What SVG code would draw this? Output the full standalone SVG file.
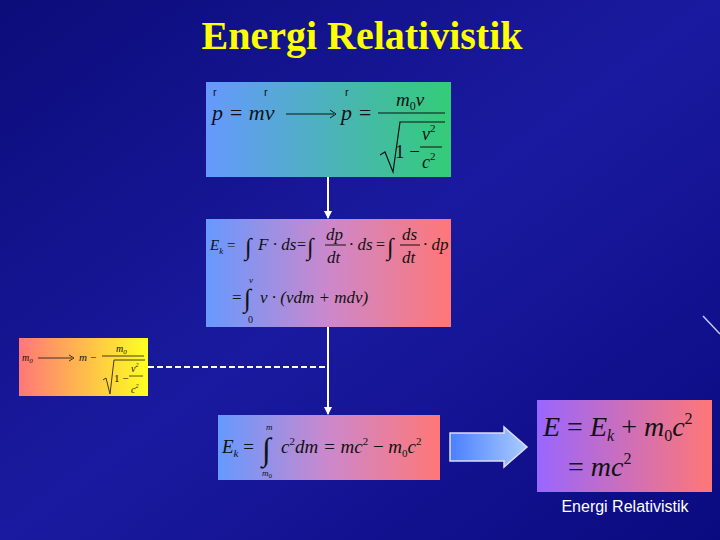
<svg xmlns="http://www.w3.org/2000/svg" width="720" height="540" viewBox="0 0 720 540">
<defs>
<linearGradient id="bg" x1="0" y1="0" x2="1" y2="1"><stop offset="0" stop-color="#0c0c7a"/><stop offset="0.5" stop-color="#1a1aa0"/><stop offset="1" stop-color="#0a0a80"/></linearGradient>
<linearGradient id="bgr" x1="0" x2="1"><stop offset="0" stop-color="#6699ff"/><stop offset="1" stop-color="#33cc77"/></linearGradient>
<linearGradient id="brd" x1="0" x2="1"><stop offset="0" stop-color="#6699ff"/><stop offset="0.5" stop-color="#cc88cc"/><stop offset="1" stop-color="#ff7777"/></linearGradient>
<linearGradient id="ry" x1="0" x2="1"><stop offset="0" stop-color="#ff7777"/><stop offset="1" stop-color="#ffff22"/></linearGradient>
<linearGradient id="pr" x1="0" x2="1"><stop offset="0" stop-color="#9966ff"/><stop offset="1" stop-color="#ff7777"/></linearGradient>
<linearGradient id="ar" x1="0" x2="1"><stop offset="0" stop-color="#4a7fff"/><stop offset="1" stop-color="#aaccff"/></linearGradient>
<marker id="ah" markerWidth="8" markerHeight="8" refX="7" refY="4" orient="auto" markerUnits="userSpaceOnUse"><path d="M0,0 L8,4 L0,8 z" fill="#fff"/></marker>
<style>
.m{font-family:"Liberation Serif",serif;font-style:italic;fill:#111}
.n{font-family:"Liberation Serif",serif;fill:#111}
.v{font-family:"Liberation Sans",sans-serif;fill:#111}
</style>
</defs>
<rect width="720" height="540" fill="url(#bg)"/>
<text x="362" y="49" text-anchor="middle" font-family="Liberation Serif,serif" font-size="40" font-weight="bold" fill="#ffff00">Energi Relativistik</text>
<line x1="703" y1="316" x2="720" y2="334" stroke="#c8c8ff" stroke-width="1.5"/>
<g id="connectors" stroke="#fff" stroke-width="2" fill="none">
<line x1="328" y1="177" x2="328" y2="218" marker-end="url(#ah)"/>
<line x1="328" y1="327" x2="328" y2="414" marker-end="url(#ah)"/>
<line x1="148" y1="367" x2="328" y2="367" stroke-dasharray="6,3"/>
<path d="M450,433 H504 V427 L527,447 L504,467 V461 H450 Z" fill="url(#ar)" stroke="#dde" stroke-width="1.5"/>
</g>
<g id="momentum">
<rect x="206" y="82" width="245" height="95" fill="url(#bgr)"/>
<text class="m" x="212" y="120" font-size="22">p = mv</text>
<text class="v" x="213" y="96" font-size="11">r</text><text class="v" x="264" y="96" font-size="11">r</text>
<line x1="286" y1="114" x2="334" y2="114" stroke="#111" stroke-width="1"/><path d="M330,110 L336,114 L330,118" fill="none" stroke="#111"/>
<text class="m" x="341" y="120" font-size="22">p =</text><text class="v" x="345" y="96" font-size="11">r</text>
<text class="m" x="396" y="106" font-size="19">m<tspan font-size="12" font-style="normal" dy="4">0</tspan><tspan dy="-4">v</tspan></text>
<line x1="378" y1="113" x2="445" y2="113" stroke="#111"/>
<path d="M380,155 L385,152 L393,172 L400,122 L445,122" fill="none" stroke="#111" stroke-width="1.2"/>
<text class="n" x="395" y="158" font-size="19">1 −</text>
<text class="m" x="422" y="140" font-size="18">v<tspan font-size="11" font-style="normal" dy="-8">2</tspan></text>
<line x1="420" y1="147" x2="442" y2="147" stroke="#111"/>
<text class="m" x="422" y="168" font-size="18">c<tspan font-size="11" font-style="normal" dy="-8">2</tspan></text>
</g>
<g id="kinetic">
<rect x="206" y="219" width="245" height="108" fill="url(#brd)"/>
<text class="m" x="210" y="250" font-size="15">E<tspan font-size="9" dy="4">k</tspan><tspan dy="-4" font-style="normal"> = </tspan></text>
<text class="n" x="245" y="255" font-size="24">∫</text><text class="m" x="258" y="250" font-size="17">F · ds</text>
<text class="n" x="297" y="250" font-size="16">=</text><text class="n" x="307" y="255" font-size="24">∫</text>
<text class="m" x="326" y="240" font-size="17">dp</text><line x1="325" y1="245" x2="346" y2="245" stroke="#111"/><text class="m" x="327" y="263" font-size="17">dt</text>
<text class="m" x="349" y="250" font-size="17">· ds</text>
<text class="n" x="376" y="250" font-size="16">=</text><text class="n" x="387" y="255" font-size="24">∫</text>
<text class="m" x="402" y="240" font-size="17">ds</text><line x1="400" y1="245" x2="420" y2="245" stroke="#111"/><text class="m" x="402" y="263" font-size="17">dt</text>
<text class="m" x="423" y="250" font-size="17">· dp</text>
<text class="n" x="232" y="303" font-size="17">=</text><text class="n" x="244" y="307" font-size="26">∫</text>
<text class="m" x="249" y="283" font-size="9">v</text><text class="n" x="248" y="323" font-size="10">0</text>
<text class="m" x="260" y="303" font-size="17">v · (vdm + mdv)</text>
</g>
<g id="mass">
<rect x="19" y="338" width="129" height="58" fill="url(#ry)"/>
<text class="m" x="22" y="361" font-size="10">m<tspan font-size="7" dy="2">0</tspan></text>
<line x1="38" y1="358" x2="72" y2="358" stroke="#111" stroke-width="0.8"/><path d="M69,355 L74,358 L69,361" fill="none" stroke="#111" stroke-width="0.8"/>
<text class="m" x="79" y="361" font-size="11">m −</text>
<text class="m" x="116" y="352" font-size="10">m<tspan font-size="7" dy="2">0</tspan></text>
<line x1="102" y1="356" x2="144" y2="356" stroke="#111" stroke-width="0.8"/>
<path d="M103,380 L106,378 L110,394 L114,360 L145,360" fill="none" stroke="#111" stroke-width="0.8"/>
<text class="n" x="114" y="382" font-size="11">1 −</text>
<text class="m" x="131" y="372" font-size="10">v<tspan font-size="6" dy="-5">2</tspan></text>
<line x1="129" y1="376" x2="143" y2="376" stroke="#111" stroke-width="0.7"/>
<text class="m" x="131" y="393" font-size="10">c<tspan font-size="6" dy="-5">2</tspan></text>
</g>
<g id="kinetic2">
<rect x="218" y="415" width="222" height="65" fill="url(#brd)"/>
<text class="m" x="222" y="453" font-size="19">E<tspan font-size="11" dy="4">k</tspan><tspan dy="-4" font-style="normal"> =</tspan></text>
<text class="n" x="262" y="460" font-size="32">∫</text>
<text class="m" x="266" y="430" font-size="9">m</text><text class="m" x="262" y="476" font-size="9">m<tspan font-size="7" font-style="normal" dy="2">0</tspan></text>
<text class="m" x="281" y="453" font-size="19">c<tspan font-size="11" font-style="normal" dy="-8">2</tspan><tspan dy="8">dm = mc</tspan><tspan font-size="11" font-style="normal" dy="-8">2</tspan><tspan dy="8" font-style="normal"> − </tspan><tspan>m</tspan><tspan font-size="11" font-style="normal" dy="4">0</tspan><tspan dy="-4">c</tspan><tspan font-size="11" font-style="normal" dy="-8">2</tspan></text>
</g>
<g id="total">
<rect x="537" y="400" width="175" height="92" fill="url(#pr)"/>
<text class="m" x="543" y="436" font-size="28">E <tspan font-style="normal">=</tspan> E<tspan font-size="16" dy="5">k</tspan><tspan dy="-5" font-style="normal"> + </tspan>m<tspan font-size="16" font-style="normal" dy="5">0</tspan><tspan dy="-5">c</tspan><tspan font-size="16" font-style="normal" dy="-12">2</tspan></text>
<text class="m" x="568" y="476" font-size="28"><tspan font-style="normal">=</tspan> mc<tspan font-size="16" font-style="normal" dy="-12">2</tspan></text>
</g>
<text x="625" y="512" text-anchor="middle" font-family="Liberation Sans,sans-serif" font-size="16" fill="#fff">Energi Relativistik</text>
</svg>
